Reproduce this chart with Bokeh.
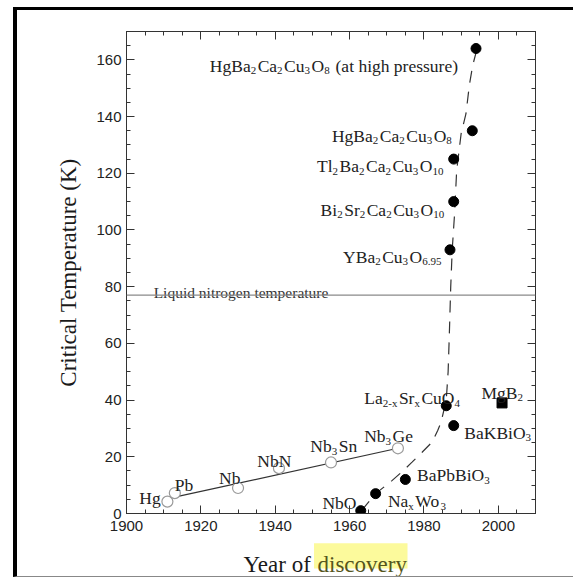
from bokeh.plotting import figure
from bokeh.layouts import column
from bokeh.models import ColumnDataSource, LinearAxis, FixedTicker, Span
from bokeh.core.properties import value
from bokeh.embed import file_html
from bokeh.resources import INLINE

# ---------------- data ----------------
conv_names = ["Hg", "Pb", "Nb", "NbN", "Nb_{3}Sn", "Nb_{3}Ge"]
conv_year = [1911, 1913, 1930, 1941, 1955, 1973]
conv_tc = [4.2, 7.2, 9.0, 16, 18, 23]

oxide_names = ["NbO", "Na_{x}Wo_{3}", "BaPbBiO_{3}", "La_{2-x}Sr_{x}CuO_{4}", "BaKBiO_{3}",
               "YBa_{2}Cu_{3}O_{6.95}", "Bi_{2}Sr_{2}Ca_{2}Cu_{3}O_{10}",
               "Tl_{2}Ba_{2}Ca_{2}Cu_{3}O_{10}", "HgBa_{2}Ca_{2}Cu_{3}O_{8}",
               "HgBa_{2}Ca_{2}Cu_{3}O_{8} (at high pressure)"]
oxide_year = [1963, 1967, 1975, 1986, 1988, 1987, 1988, 1988, 1993, 1994]
oxide_tc = [1.0, 7, 12, 38, 31, 93, 110, 125, 135, 164]

mgb2_name = ["MgB_{2}"]
mgb2_year = [2001]
mgb2_tc = [39]

trend_year = [1912, 1973]
trend_tc = [5.5, 23]

curve_year = [1963.2, 1967, 1971.4, 1974.5, 1976.8, 1979.5, 1982.2, 1983.7, 1984.6,
              1986.0, 1986.5, 1986.8, 1987.2, 1987.6, 1988.2, 1988.8, 1990.0,
              1991.3, 1992.2, 1993.1, 1994.3]
curve_tc = [1, 7, 11.6, 15.2, 18.1, 21.6, 25.2, 29.3, 32.2, 40, 50, 62, 80, 93,
            105, 121, 134, 141, 151, 158, 164]

ln2_temp = 77
ln2_text = "Liquid nitrogen temperature"

x_major = [1900, 1920, 1940, 1960, 1980, 2000]
y_major = [0, 20, 40, 60, 80, 100, 120, 140, 160]

x_title_plain = "Year of"
x_title_marked = "discovery"
y_title = "Critical Temperature (K)"

# label placement: (align, dx px, dy px baseline offset) relative to each point
conv_place = [("right", -6.7, -3.4), ("left", 0, -8.3), ("left", -19, -10),
              ("left", -21.6, -7.3), ("left", -20.7, -16), ("left", -33.7, -12)]
oxide_place = [("right", -4.3, -7.7), ("left", 12.3, 7.4), ("left", 11.7, -4.3),
               ("left", -82, -7.4), ("left", 10.6, 7), ("right", -7, 7),
               ("right", -8, 8.3), ("right", -8.7, 7.4), ("right", -19, 5),
               ("right", -18, 17)]
mgb2_place = [("left", -20.6, -10)]

# ---------------- main figure ----------------
W, H = 556, 531
BL, BR = 109, 38
fig = figure(width=W, height=H, x_range=(1900, 2010), y_range=(0, 170),
             output_backend="svg", toolbar_location=None, x_axis_type=None,
             y_axis_type=None, min_border_left=BL, min_border_right=BR,
             min_border_top=21, min_border_bottom=28)
fig.background_fill_color = "white"
fig.border_fill_color = "white"
fig.outline_line_color = "#333333"
fig.grid.visible = False

AX = "#333333"
TICKFONT = "Liberation Sans"
SERIF = "Liberation Serif"


def make_axis(ticks, minor, show_labels):
    ax = LinearAxis(ticker=FixedTicker(ticks=ticks, minor_ticks=minor))
    ax.axis_line_color = AX
    ax.major_tick_line_color = AX
    ax.minor_tick_line_color = AX
    ax.major_tick_in = 8
    ax.major_tick_out = 0
    ax.minor_tick_in = 4
    ax.minor_tick_out = 0
    ax.major_label_text_font = TICKFONT
    ax.major_label_text_color = "#222222"
    ax.major_label_text_font_size = "15px"
    if not show_labels:
        ax.major_label_overrides = {t: "" for t in ticks}
        ax.major_label_standoff = 0
    return ax


xminor = list(range(1900, 2011, 5))
yminor = list(range(0, 171, 5))
bx = make_axis(x_major, xminor, True)
bx.major_label_standoff = 7
fig.add_layout(bx, "below")
ly = make_axis(y_major, yminor, True)
ly.major_label_standoff = 5
ly.axis_label = y_title
ly.axis_label_text_font = SERIF
ly.axis_label_text_font_size = "23px"
ly.axis_label_text_font_style = "normal"
ly.axis_label_text_color = "#1a1a1a"
ly.axis_label_standoff = 12
fig.add_layout(ly, "left")
fig.add_layout(make_axis(x_major, xminor, False), "above")
fig.add_layout(make_axis(y_major, yminor, False), "right")

# liquid nitrogen line
fig.add_layout(Span(location=ln2_temp, dimension="width", line_color="#8a8a8a",
                    line_width=1.2))

# trend line & dashed curve
fig.line(trend_year, trend_tc, line_color="#333333", line_width=1.2)
fig.line(curve_year, curve_tc, line_color="#333333", line_width=1.2, line_dash="12 9")

# markers
fig.scatter(conv_year, conv_tc, marker="circle", size=11, fill_color="white",
            line_color="#9a9a9a", line_width=1.2)
fig.scatter(oxide_year, oxide_tc, marker="circle", size=10, fill_color="black",
            line_color="black")
fig.scatter(mgb2_year, mgb2_tc, marker="square", size=10, fill_color="black",
            line_color="black")

# ---------------- labels with subscripts ----------------
WID = {' ': 250, '(': 333, ')': 333, '-': 333, '.': 250,
       'A': 722, 'B': 667, 'C': 667, 'G': 722, 'H': 722, 'K': 722, 'L': 611,
       'M': 889, 'N': 722, 'O': 722, 'P': 556, 'S': 556, 'T': 611, 'W': 944,
       'Y': 722, 'a': 444, 'b': 500, 'c': 444, 'd': 500, 'e': 444, 'f': 333,
       'g': 500, 'h': 500, 'i': 278, 'l': 278, 'm': 778, 'n': 500, 'o': 500,
       'p': 500, 'q': 500, 'r': 333, 's': 389, 't': 278, 'u': 500, 'v': 500,
       'x': 500, 'y': 500}
for d in "0123456789":
    WID[d] = 500

MAIN, SUB, SUBDROP, SUBGAP = 17.5, 11, 5, 1.5


def tw(s, size):
    return sum(WID.get(c, 500) for c in s) * size / 1000.0


def parse(s):
    out, buf, i = [], "", 0
    while i < len(s):
        if s[i] == "_" and i + 1 < len(s) and s[i + 1] == "{":
            if buf:
                out.append((buf, False))
                buf = ""
            j = s.index("}", i)
            out.append((s[i + 2:j], True))
            i = j + 1
        else:
            buf += s[i]
            i += 1
    if buf:
        out.append((buf, False))
    return out


cols = dict(x=[], y=[], text=[], xo=[], yo=[], fs=[])


def add_labels(names, xs, ys, places):
    for name, xv, yv, (align, dx, dy) in zip(names, xs, ys, places):
        segs = parse(name)
        widths = []
        for t, sub in segs:
            widths.append(tw(t, SUB) + SUBGAP if sub else tw(t, MAIN))
        total = sum(widths)
        cur = dx - total if align == "right" else dx
        for (t, sub), w in zip(segs, widths):
            size = SUB if sub else MAIN
            lead = len(t) - len(t.lstrip(" "))
            shown = t.strip(" ")
            cols["x"].append(xv)
            cols["y"].append(yv)
            cols["text"].append(shown)
            cols["xo"].append(cur + tw(" " * lead, size))
            cols["yo"].append(dy + (SUBDROP if sub else 0))
            cols["fs"].append(f"{size}px")
            cur += w


add_labels(conv_names, conv_year, conv_tc, conv_place)
add_labels(oxide_names, oxide_year, oxide_tc, oxide_place)
add_labels(mgb2_name, mgb2_year, mgb2_tc, mgb2_place)

src = ColumnDataSource(cols)
fig.text(x="x", y="y", text="text", x_offset="xo", y_offset="yo",
         text_font_size="fs", text_font=value(SERIF), text_color="#222222",
         text_align="left", text_baseline="alphabetic", source=src)

fig.text(x=[1907.3], y=[ln2_temp], text=[ln2_text], y_offset=[-3],
         text_font=value(SERIF), text_font_size="15.5px", text_color="#333333",
         text_align="left", text_baseline="alphabetic")

# ---------------- x-axis title strip (with highlighted word) ----------------
# strip frame is aligned with the main frame; its coordinates are page pixels
SH = 35
FX0, FX1 = 126, 535
strip = figure(width=W, height=SH, x_range=(FX0, FX1), y_range=(SH, 0),
               output_backend="svg", toolbar_location=None, x_axis_type=None,
               y_axis_type=None, min_border_left=BL, min_border_right=BR,
               min_border_top=0, min_border_bottom=0)
strip.outline_line_color = None
strip.grid.visible = False
strip.background_fill_color = "white"
strip.border_fill_color = "white"
strip.quad(left=[313.5], right=[407], top=[1.7], bottom=[27], fill_color="#fcfa9c",
           line_color=None)
strip.text(x=[243], y=[23], text=[x_title_plain], text_font=value(SERIF),
           text_font_size="23px", text_color="#1a1a1a", text_align="left",
           text_baseline="alphabetic")
strip.text(x=[317], y=[23], text=[x_title_marked], text_font=value(SERIF),
           text_font_size="23px", text_color="#55551c", text_align="left",
           text_baseline="alphabetic")

p = column(fig, strip, spacing=0, margin=(7, 0, 0, 13),
           styles={"border-left": "4px solid black", "border-top": "3px solid black",
                   "border-bottom": "1px solid #888888", "background": "white"})

open("out.html", "w").write(file_html(p, INLINE))
